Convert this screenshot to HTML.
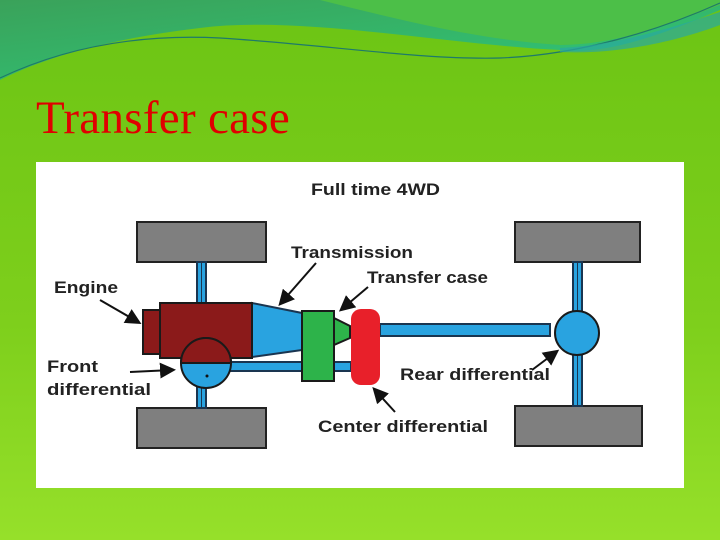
<!DOCTYPE html>
<html><head><style>
body{margin:0;width:720px;height:540px;overflow:hidden;background:linear-gradient(180deg,#6cc414 0%,#7ecf1c 60%,#96e02a 100%);position:relative;font-family:"Liberation Sans",sans-serif}
.t{position:absolute;left:36px;top:91px;font-family:"Liberation Serif",serif;font-size:47px;color:#e00000;letter-spacing:0.3px}
</style></head><body>
<svg width="720" height="90" style="position:absolute;left:0;top:0">
<defs><linearGradient id="g" x1="0" y1="0" x2="1" y2="1"><stop offset="0" stop-color="#3aa25a"/><stop offset="1" stop-color="#2ec97a"/></linearGradient></defs>
<path d="M0 0 H720 V10 C650 40 600 55 560 50 C450 45 300 15 200 28 C100 40 40 60 0 80 Z" fill="url(#g)"/>
<path d="M320 0 C400 20 480 40 560 45 C620 45 680 20 720 5 V0 Z" fill="#4cbf48"/>
<path d="M0 78 C80 40 160 35 220 38 C330 45 420 60 500 58 C580 55 660 30 720 3" fill="none" stroke="#1e7a6a" stroke-width="1.2"/>
<path d="M560 48 C620 45 680 25 720 12 V25 C680 40 620 55 560 52 Z" fill="#2aa8a0" opacity=".7"/>
</svg>
<div class="t">Transfer case</div>
<svg width="720" height="540" style="position:absolute;left:0;top:0" font-family="Liberation Sans, sans-serif" font-weight="bold">
<defs><marker id="a" markerWidth="8" markerHeight="8" refX="6" refY="4" orient="auto"><path d="M0 0 L8 4 L0 8 Z" fill="#111"/></marker></defs>
<rect x="36" y="162" width="648" height="326" fill="#fff"/>
<g fill="#7f7f7f" stroke="#222" stroke-width="2">
<rect x="137" y="222" width="129" height="40"/><rect x="137" y="408" width="129" height="40"/>
<rect x="515" y="222" width="125" height="40"/><rect x="515" y="406" width="127" height="40"/>
</g>
<g fill="#29a3e0" stroke="#1a3550" stroke-width="2">
<rect x="197" y="262" width="9" height="146"/>
<rect x="573" y="262" width="9" height="144"/>
<rect x="380" y="324" width="170" height="12"/>
<rect x="226" y="362" width="125" height="9"/>
<path d="M252 303 L302 313 L302 350 L252 357 Z"/>
</g>
<line x1="201.5" y1="262" x2="201.5" y2="408" stroke="#1a3550" stroke-width="1"/>
<line x1="577.5" y1="262" x2="577.5" y2="406" stroke="#1a3550" stroke-width="1"/>
<g stroke="#1a1a1a" stroke-width="2">
<rect x="143" y="310" width="17" height="44" fill="#8b1a1a"/>
<rect x="160" y="303" width="92" height="55" fill="#8b1a1a"/>
<circle cx="206" cy="363" r="25" fill="#29a3e0"/>
<path d="M181 363 A25 25 0 0 1 231 363 Z" fill="#8b1a1a"/>
<rect x="302" y="311" width="32" height="70" fill="#2db34a"/>
<path d="M334 318 L350 326 L350 338 L334 345 Z" fill="#2db34a"/>
<circle cx="577" cy="333" r="22" fill="#29a3e0"/>
</g>
<circle cx="207" cy="376" r="1.5" fill="#111"/>
<rect x="351" y="309" width="29" height="76" rx="10" fill="#e8202a"/>
<g font-size="17" fill="#222">
<text x="311" y="195" textLength="129" lengthAdjust="spacingAndGlyphs">Full time 4WD</text>
<text x="291" y="258" textLength="122" lengthAdjust="spacingAndGlyphs">Transmission</text>
<text x="367" y="283" textLength="121" lengthAdjust="spacingAndGlyphs">Transfer case</text>
<text x="54" y="293" textLength="64" lengthAdjust="spacingAndGlyphs">Engine</text>
<text x="47" y="372" textLength="51" lengthAdjust="spacingAndGlyphs">Front</text>
<text x="47" y="395" textLength="104" lengthAdjust="spacingAndGlyphs">differential</text>
<text x="400" y="380" textLength="150" lengthAdjust="spacingAndGlyphs">Rear differential</text>
<text x="318" y="432" textLength="170" lengthAdjust="spacingAndGlyphs">Center differential</text>
</g>
<g stroke="#111" stroke-width="2" marker-end="url(#a)">
<line x1="316" y1="263" x2="281" y2="303"/>
<line x1="368" y1="287" x2="342" y2="309"/>
<line x1="100" y1="300" x2="138" y2="322"/>
<line x1="130" y1="372" x2="172" y2="370"/>
<line x1="532" y1="370" x2="556" y2="352"/>
<line x1="395" y1="412" x2="375" y2="390"/>
</g>
</svg>
</body></html>
